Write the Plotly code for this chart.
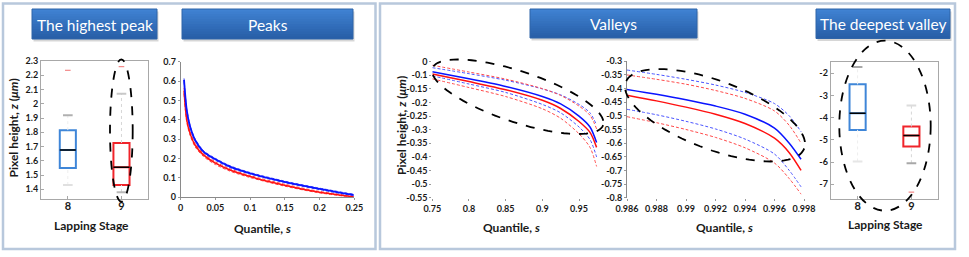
import math
import plotly.graph_objects as go

W, H = 969, 257

# ---------------- data ----------------
# Box plots: "The highest peak"
hp_stage = [8, 9]
hp_q1 = [1.55, 1.43]
hp_median = [1.675, 1.555]
hp_q3 = [1.815, 1.725]
hp_low = [1.43, 1.38]
hp_high = [1.92, 2.07]
hp_outlier = [2.235, 2.26]

# Box plots: "The deepest valley"
dv_stage = [8, 9]
dv_q1 = [-4.55, -5.3]
dv_median = [-3.8, -4.8]
dv_q3 = [-2.5, -4.4]
dv_low = [-5.97, -6.05]
dv_high = [-1.72, -3.45]
dv_outlier = [None, -7.35]

# Peaks curves
pk_s = [0.0048, 0.0087, 0.0135, 0.0207, 0.0327, 0.05, 0.071, 0.1, 0.148, 0.196, 0.249]
pk_blue = [0.606, 0.45, 0.365, 0.296, 0.236, 0.196, 0.158, 0.124, 0.081, 0.046, 0.012]
pk_blue_hi = [0.614, 0.457, 0.371, 0.302, 0.241, 0.201, 0.163, 0.128, 0.085, 0.050, 0.016]
pk_blue_lo = [0.598, 0.443, 0.359, 0.290, 0.231, 0.191, 0.153, 0.120, 0.077, 0.042, 0.008]
pk_red = [0.55, 0.40, 0.33, 0.27, 0.219, 0.176, 0.141, 0.107, 0.064, 0.029, 0.003]
pk_red_hi = [0.565, 0.412, 0.340, 0.279, 0.227, 0.183, 0.147, 0.112, 0.069, 0.033, 0.006]
pk_red_lo = [0.535, 0.388, 0.320, 0.261, 0.211, 0.169, 0.135, 0.102, 0.059, 0.025, 0.0]

# Valleys (first range)
v1_s = [0.75, 0.8, 0.85, 0.9, 0.925, 0.95, 0.965, 0.974]
v1_blue = [-0.087, -0.113, -0.141, -0.178, -0.205, -0.25, -0.29, -0.347]
v1_red = [-0.095, -0.123, -0.153, -0.192, -0.222, -0.27, -0.31, -0.365]
v1_blue_hi = [-0.072, -0.094, -0.118, -0.150, -0.172, -0.207, -0.238, -0.283]
v1_red_hi = [-0.063, -0.088, -0.114, -0.149, -0.174, -0.213, -0.247, -0.297]
v1_blue_lo = [-0.102, -0.132, -0.163, -0.207, -0.238, -0.29, -0.336, -0.40]
v1_red_lo = [-0.113, -0.145, -0.178, -0.223, -0.258, -0.315, -0.365, -0.435]

# Valleys (second range)
v2_s = [0.986, 0.988, 0.99, 0.992, 0.994, 0.996, 0.997, 0.9978]
v2_blue = [-0.403, -0.421, -0.441, -0.464, -0.494, -0.545, -0.60, -0.659]
v2_red = [-0.424, -0.445, -0.468, -0.494, -0.528, -0.582, -0.635, -0.70]
v2_blue_hi = [-0.332, -0.348, -0.366, -0.387, -0.414, -0.455, -0.50, -0.558]
v2_red_hi = [-0.35, -0.366, -0.384, -0.407, -0.436, -0.482, -0.535, -0.60]
v2_blue_lo = [-0.476, -0.496, -0.52, -0.548, -0.585, -0.64, -0.70, -0.76]
v2_red_lo = [-0.503, -0.525, -0.55, -0.579, -0.617, -0.673, -0.73, -0.787]

# tick labels
hp_yticks = [2.3, 2.2, 2.1, 2.0, 1.9, 1.8, 1.7, 1.6, 1.5, 1.4]
hp_yticktext = ["2.3", "2.2", "2.1", "2", "1.9", "1.8", "1.7", "1.6", "1.5", "1.4"]
pk_xticks = [0, 0.05, 0.1, 0.15, 0.2, 0.25]
pk_xticktext = ["0", "0.05", "0.1", "0.15", "0.2", "0.25"]
pk_yticks = [0, 0.1, 0.2, 0.3, 0.4, 0.5, 0.6, 0.7]
pk_yticktext = ["0", "0.1", "0.2", "0.3", "0.4", "0.5", "0.6", "0.7"]
v1_xticks = [0.75, 0.8, 0.85, 0.9, 0.95]
v1_xticktext = ["0.75", "0.8", "0.85", "0.9", "0.95"]
v1_yticks = [-0.05, -0.1, -0.15, -0.2, -0.25, -0.3, -0.35, -0.4, -0.45, -0.5, -0.55]
v1_yticktext = ["0", "-0.1", "-0.15", "-0.2", "-0.25", "-0.3", "-0.35", "-0.4", "-0.45", "-0.5", "-0.55"]
v2_xticks = [0.986, 0.988, 0.99, 0.992, 0.994, 0.996, 0.998]
v2_xticktext = ["0.986", "0.988", "0.99", "0.992", "0.994", "0.996", "0.998"]
v2_yticks = [-0.3, -0.35, -0.4, -0.45, -0.5, -0.55, -0.6, -0.65, -0.7, -0.75, -0.8]
v2_yticktext = ["-0.3", "-0.35", "-0.4", "-0.45", "-0.5", "-0.55", "-0.6", "-0.65", "-0.7", "-0.75", "-0.8"]
dv_yticks = [-2, -3, -4, -5, -6, -7]
dv_yticktext = ["-2", "-3", "-4", "-5", "-6", "-7"]
stage_text = ["8", "9"]

panel_titles = ["The highest peak", "Peaks", "Valleys", "The deepest valley"]

# ---------------- helpers ----------------
def px(x):
    return x / W

def py(y):
    return 1 - y / H

BLUE = "#0a14ff"
RED = "#ff1010"
BLUE_D = "#4b55ff"
RED_D = "#ff4a4a"
BOX_COLORS = ["#3f86d8", "#f0242a"]
TICKFONT = dict(family="Lato", size=9, color="#1a1a1a", weight="bold")
TITLEFONT = dict(family="Lato", size=12, color="#1a1a1a", weight="bold")

fig = go.Figure()

def add_boxes(stage, q1, med, q3, lo, hi, outl, xa, ya, cap_colors, whisk_colors):
    bw = 0.3
    for i, st in enumerate(stage):
        fig.add_trace(go.Scatter(x=[st, st], y=[q3[i], hi[i]], mode="lines",
                                 line=dict(color=whisk_colors[i], width=1, dash="dot"),
                                 xaxis=xa, yaxis=ya, showlegend=False, hoverinfo="skip"))
        fig.add_trace(go.Scatter(x=[st, st], y=[lo[i], q1[i]], mode="lines",
                                 line=dict(color=whisk_colors[i], width=1, dash="dot"),
                                 xaxis=xa, yaxis=ya, showlegend=False, hoverinfo="skip"))
        for v, c in ((hi[i], cap_colors[i][0]), (lo[i], cap_colors[i][1])):
            fig.add_trace(go.Scatter(x=[st - bw * 0.3, st + bw * 0.3], y=[v, v], mode="lines",
                                     line=dict(color=c, width=2),
                                     xaxis=xa, yaxis=ya, showlegend=False, hoverinfo="skip"))
        fig.add_trace(go.Box(x=[st], q1=[q1[i]], median=[med[i]], q3=[q3[i]],
                             lowerfence=[q1[i]], upperfence=[q3[i]], width=bw,
                             whiskerwidth=0, line=dict(color=BOX_COLORS[i], width=2),
                             fillcolor="rgba(255,255,255,0)", boxpoints=False,
                             xaxis=xa, yaxis=ya, showlegend=False, hoverinfo="skip"))
        fig.add_trace(go.Scatter(x=[st - bw / 2, st + bw / 2], y=[med[i], med[i]], mode="lines",
                                 line=dict(color="black", width=1.5),
                                 xaxis=xa, yaxis=ya, showlegend=False, hoverinfo="skip"))
        if outl[i] is not None:
            fig.add_trace(go.Scatter(x=[st], y=[outl[i]], mode="markers",
                                     marker=dict(symbol="line-ew", size=4,
                                                 line=dict(color="#f07070", width=1)),
                                     xaxis=xa, yaxis=ya, showlegend=False, hoverinfo="skip"))

add_boxes(hp_stage, hp_q1, hp_median, hp_q3, hp_low, hp_high, hp_outlier, "x", "y",
          cap_colors=[("#b0b0b0", "#e0e0e0"), ("#c8c8c8", "#b8b8b8")],
          whisk_colors=["#eeeeee", "#d6d6d6"])
add_boxes(dv_stage, dv_q1, dv_median, dv_q3, dv_low, dv_high, dv_outlier, "x5", "y5",
          cap_colors=[("#a8a8a8", "#e6e6e6"), ("#dcdcdc", "#a8a8a8")],
          whisk_colors=["#eeeeee", "#d6d6d6"])

def add_curves(s, series, xa, ya):
    for ys, color, dash, width in series:
        fig.add_trace(go.Scatter(x=s, y=ys, mode="lines",
                                 line=dict(color=color, width=width, dash=dash, shape="spline", smoothing=0.8),
                                 xaxis=xa, yaxis=ya, showlegend=False, hoverinfo="skip"))

D = "3px,2px"
add_curves(pk_s, [(pk_red_hi, RED_D, D, 1), (pk_red_lo, RED_D, D, 1), (pk_red, RED, None, 1.5),
                  (pk_blue_hi, BLUE_D, D, 1), (pk_blue_lo, BLUE_D, D, 1), (pk_blue, BLUE, None, 1.8)],
           "x2", "y2")
add_curves(v1_s, [(v1_blue_hi, BLUE_D, D, 1), (v1_red_hi, RED_D, D, 1), (v1_blue_lo, BLUE_D, D, 1),
                  (v1_red_lo, RED_D, D, 1), (v1_blue, BLUE, None, 1.5), (v1_red, RED, None, 1.5)],
           "x3", "y3")
add_curves(v2_s, [(v2_blue_hi, BLUE_D, D, 1), (v2_red_hi, RED_D, D, 1), (v2_blue_lo, BLUE_D, D, 1),
                  (v2_red_lo, RED_D, D, 1), (v2_blue, BLUE, None, 1.5), (v2_red, RED, None, 1.5)],
           "x4", "y4")

# ---------------- axes ----------------
def dom(x0, x1):
    return [px(x0), px(x1)]

def domy(ytop, ybot):
    return [py(ybot), py(ytop)]

box_ax = dict(showline=True, mirror=True, linecolor="#a8a8a8", linewidth=1, showgrid=False, automargin=False,
              zeroline=False, ticks="inside", ticklen=3, tickcolor="#a8a8a8", tickfont=TICKFONT)
fig.update_layout(
    xaxis=dict(box_ax, domain=dom(41, 148.3), range=[7.5, 9.5], tickvals=hp_stage, ticktext=stage_text,
               tickfont=dict(TICKFONT, size=11), ticklabelstandoff=-3, anchor="y"),
    yaxis=dict(box_ax, domain=domy(61, 199), range=[1.332, 2.3], tickvals=hp_yticks,
               ticktext=hp_yticktext, anchor="x"),
    xaxis5=dict(box_ax, domain=dom(830.7, 938.3), range=[7.5, 9.5], tickvals=dv_stage, ticktext=stage_text,
                tickfont=dict(TICKFONT, size=11), ticklabelstandoff=-3, anchor="y5"),
    yaxis5=dict(box_ax, domain=domy(61.7, 199), range=[-7.66, -1.48], tickvals=dv_yticks,
                ticktext=dv_yticktext, anchor="x5"),
)
crv = dict(showgrid=False, zeroline=False, tickfont=TICKFONT, ticks="outside", ticklen=2, automargin=False,
           tickcolor="#999999", linecolor="#8a8a8a", linewidth=1)
fig.update_layout(
    xaxis2=dict(crv, domain=dom(180.7, 354.3), range=[0, 0.25], tickvals=pk_xticks, ticktext=pk_xticktext,
                showline=True, anchor="y2"),
    yaxis2=dict(crv, domain=domy(61.7, 197.3), range=[0, 0.7], tickvals=pk_yticks, ticktext=pk_yticktext,
                showline=True, anchor="x2"),
    xaxis3=dict(crv, domain=dom(432.3, 601), range=[0.75, 0.98], tickvals=v1_xticks, ticktext=v1_xticktext,
                showline=False, anchor="y3"),
    yaxis3=dict(crv, domain=domy(61.7, 197.7), range=[-0.55, -0.05], tickvals=v1_yticks,
                ticktext=v1_yticktext, showline=False, anchor="x3"),
    xaxis4=dict(crv, domain=dom(627, 804), range=[0.986, 0.998], tickvals=v2_xticks, ticktext=v2_xticktext,
                showline=False, anchor="y4"),
    yaxis4=dict(crv, domain=domy(61.3, 197.7), range=[-0.8, -0.3], tickvals=v2_yticks,
                ticktext=v2_yticktext, showline=True, anchor="x4"),
)

# ---------------- decorations ----------------
shapes = []
for x0, x1 in ((3, 375.5), (380, 955)):
    shapes.append(dict(type="rect", xref="paper", yref="paper", x0=px(x0), x1=px(x1), y0=py(249), y1=py(3.5),
                       line=dict(color="#b8c8dc", width=2.5), fillcolor="rgba(0,0,0,0)", layer="below"))

title_boxes = [(32, 157, 9, 39), (182, 353, 9, 39), (530, 697, 9, 38), (816, 950, 9, 38.5)]
top_c = (64, 130, 210)
bot_c = (40, 95, 168)
annotations = []
for (x0, x1, y0, y1), txt in zip(title_boxes, panel_titles):
    shapes.append(dict(type="rect", xref="paper", yref="paper", x0=px(x0 + 1.5), x1=px(x1 + 1.5),
                       y0=py(y1 + 2.5), y1=py(y0 + 2.5), line=dict(width=0), fillcolor="rgba(0,0,0,0.16)"))
    n = 12
    for k in range(n):
        t = k / (n - 1)
        c = tuple(int(top_c[j] + (bot_c[j] - top_c[j]) * t) for j in range(3))
        ya = y0 + (y1 - y0) * k / n
        shapes.append(dict(type="rect", xref="paper", yref="paper", x0=px(x0), x1=px(x1),
                           y0=py(y1), y1=py(ya), line=dict(width=0), fillcolor="rgb(%d,%d,%d)" % c))
    shapes.append(dict(type="rect", xref="paper", yref="paper", x0=px(x0), x1=px(x1), y0=py(y1), y1=py(y0),
                       line=dict(color="#2f64a8", width=1), fillcolor="rgba(0,0,0,0)"))
    annotations.append(dict(xref="paper", yref="paper", x=px((x0 + x1) / 2), y=py((y0 + y1) / 2 + 0.5),
                            text=txt, showarrow=False, xanchor="center", yanchor="middle",
                            font=dict(family="Lato", size=15.5, color="white")))

for x0, x1, y0, y1 in ((110, 132.7, 59.3, 201.7), (839.3, 930.7, 40.7, 210.7)):
    shapes.append(dict(type="circle", xref="paper", yref="paper", x0=px(x0), x1=px(x1), y0=py(y1), y1=py(y0),
                       line=dict(color="black", width=1.8, dash="dash")))

def ellipse_path(cx, cy, a, b, theta_deg, n=90):
    th = math.radians(theta_deg)
    pts = []
    for i in range(n):
        t = 2 * math.pi * i / n
        X = cx + a * math.cos(t) * math.cos(th) - b * math.sin(t) * math.sin(th)
        Y = cy + a * math.cos(t) * math.sin(th) + b * math.sin(t) * math.cos(th)
        pts.append("%.5f,%.5f" % (px(X), py(Y)))
    return "M " + " L ".join(pts) + " Z"

for cx, cy, a, b, th in ((517.75, 96.75, 90, 25.4, 18.4), (715, 115.3, 95.2, 34.3, 20.4)):
    shapes.append(dict(type="path", xref="paper", yref="paper", path=ellipse_path(cx, cy, a, b, th),
                       line=dict(color="black", width=1.8, dash="dash")))

ylab = "Pixel height, <i>z</i> (<i>μm</i>)"
qlab = "Quantile, <i>s</i>"
for x, y, txt, ang in ((12.5, 128, ylab, -90), (401, 126, ylab, -90),
                       (91, 225, "Lapping Stage", 0), (262, 228, qlab, 0),
                       (512, 227, qlab, 0), (724, 227, qlab, 0), (885, 224, "Lapping Stage", 0)):
    annotations.append(dict(xref="paper", yref="paper", x=px(x), y=py(y), text=txt, showarrow=False,
                            xanchor="center", yanchor="middle", textangle=ang, font=TITLEFONT))

fig.update_layout(width=W, height=H, margin=dict(l=0, r=0, t=0, b=0, autoexpand=False), paper_bgcolor="white",
                  plot_bgcolor="rgba(0,0,0,0)", shapes=shapes, annotations=annotations, showlegend=False)

fig.write_html("out.html", config={"displayModeBar": False},
               post_script="document.body.style.margin='0';document.body.style.overflow='hidden';")
